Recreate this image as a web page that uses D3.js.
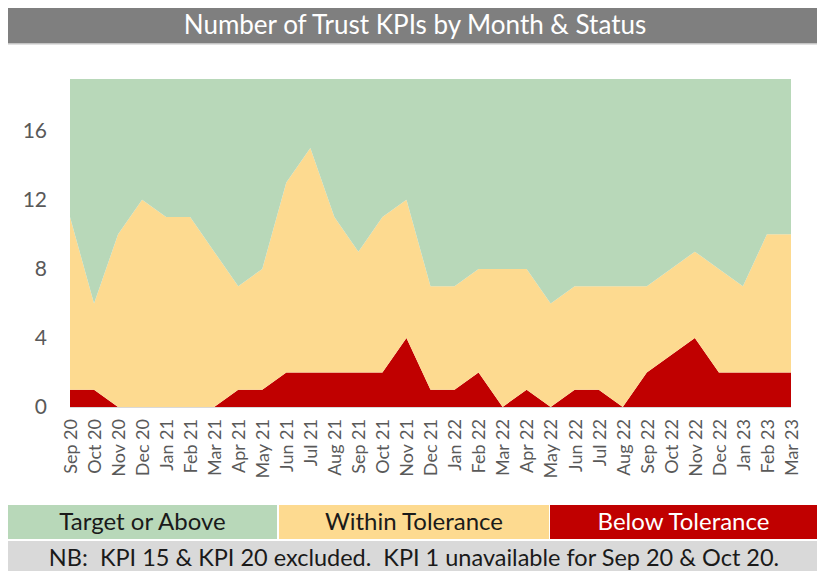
<!DOCTYPE html>
<html>
<head>
<meta charset="utf-8">
<script src="https://cdn.jsdelivr.net/npm/d3@7"></script>
<style>
  body { margin: 0; background: #fff; }
  svg text { font-family: Lato, "Open Sans", sans-serif; }
</style>
</head>
<body>
<div class="chart"></div>
<script>
const months = ["Sep 20","Oct 20","Nov 20","Dec 20","Jan 21","Feb 21","Mar 21","Apr 21","May 21","Jun 21","Jul 21","Aug 21","Sep 21","Oct 21","Nov 21","Dec 21","Jan 22","Feb 22","Mar 22","Apr 22","May 22","Jun 22","Jul 22","Aug 22","Sep 22","Oct 22","Nov 22","Dec 22","Jan 23","Feb 23","Mar 23"];
const below  = [1,1,0,0,0,0,0,1,1,2,2,2,2,2,4,1,1,2,0,1,0,1,1,0,2,3,4,2,2,2,2];
const within = [10,5,10,12,11,11,9,6,7,11,13,9,7,9,8,6,6,6,8,7,6,6,6,7,5,5,5,6,5,8,8];
const target = [8,13,9,7,8,8,10,12,11,6,4,8,10,8,7,12,12,11,11,11,13,12,12,12,12,11,10,11,12,9,9];
const yTicks = [0,4,8,12,16];

const width = 817, height = 571;
const svg = d3.select(".chart").append("svg")
  .attr("width", width).attr("height", height);

// title bar
svg.append("rect").attr("x", 8).attr("y", 8).attr("width", 809).attr("height", 35).attr("fill", "#7f7f7f");
svg.append("rect").attr("x", 8).attr("y", 43).attr("width", 809).attr("height", 1.5).attr("fill", "#c4c4c4");
svg.append("text").attr("x", 415).attr("y", 34).attr("text-anchor", "middle")
  .attr("fill", "#fff").style("font-size", "26px")
  .text("Number of Trust KPIs by Month & Status");

const rows = months.map((m, i) => ({month: m, below: below[i], within: within[i], target: target[i]}));
const keys = ["below", "within", "target"];
const colors = {below: "#c00000", within: "#fdda90", target: "#b8d8b9"};

const stack = d3.stack().keys(keys)(rows);

const x = d3.scalePoint().domain(months).range([70, 791]);
const y = d3.scaleLinear().domain([0, 19]).range([407, 79]);

const area = d3.area()
  .x(d => x(d.data.month))
  .y0(d => y(d[0]))
  .y1(d => y(d[1]));

svg.selectAll("path.layer")
  .data(stack)
  .join("path")
  .attr("class", "layer")
  .attr("d", area)
  .attr("fill", d => colors[d.key]);

// baseline
svg.append("line").attr("x1", 70).attr("x2", 791).attr("y1", 407.5).attr("y2", 407.5)
  .attr("stroke", "#d9d9d9").attr("stroke-width", 1);

const yAxis = svg.append("g").attr("transform", "translate(70,0)")
  .call(d3.axisLeft(y).tickValues(yTicks).tickSize(0).tickPadding(23));
yAxis.select(".domain").remove();
yAxis.selectAll("text").attr("fill", "#595959").style("font-size", "21px")
  .style("font-family", "Lato, sans-serif");

const xAxis = svg.append("g").attr("transform", "translate(0,407)")
  .call(d3.axisBottom(x).tickSize(0));
xAxis.select(".domain").remove();
xAxis.selectAll("text")
  .attr("fill", "#595959").style("font-size", "18px").style("font-family", "Lato, sans-serif")
  .attr("text-anchor", "end")
  .attr("transform", "rotate(-90)")
  .attr("x", -12).attr("y", 0).attr("dy", "0.35em");

// legend
const legend = [
  {label: "Target or Above", x: 8, w: 269, fill: "#b8d8b9", text: "#1a1a1a"},
  {label: "Within Tolerance", x: 279, w: 270, fill: "#fdda90", text: "#1a1a1a"},
  {label: "Below Tolerance", x: 550, w: 267, fill: "#c00000", text: "#ffffff"}
];
const lg = svg.selectAll("g.legend").data(legend).join("g").attr("class", "legend");
lg.append("rect").attr("x", d => d.x).attr("y", 505).attr("width", d => d.w).attr("height", 34)
  .attr("fill", d => d.fill);
lg.append("text").attr("x", d => d.x + d.w / 2).attr("y", 530).attr("text-anchor", "middle")
  .attr("fill", d => d.text).style("font-size", "24px").text(d => d.label);

// note
svg.append("rect").attr("x", 8).attr("y", 541).attr("width", 809).attr("height", 30).attr("fill", "#d9d9d9");
svg.append("text").attr("x", 414).attr("y", 566).attr("text-anchor", "middle")
  .attr("fill", "#1a1a1a").style("font-size", "23.5px").style("white-space", "pre")
  .text("NB:  KPI 15 & KPI 20 excluded.  KPI 1 unavailable for Sep 20 & Oct 20.");
</script>
</body>
</html>
